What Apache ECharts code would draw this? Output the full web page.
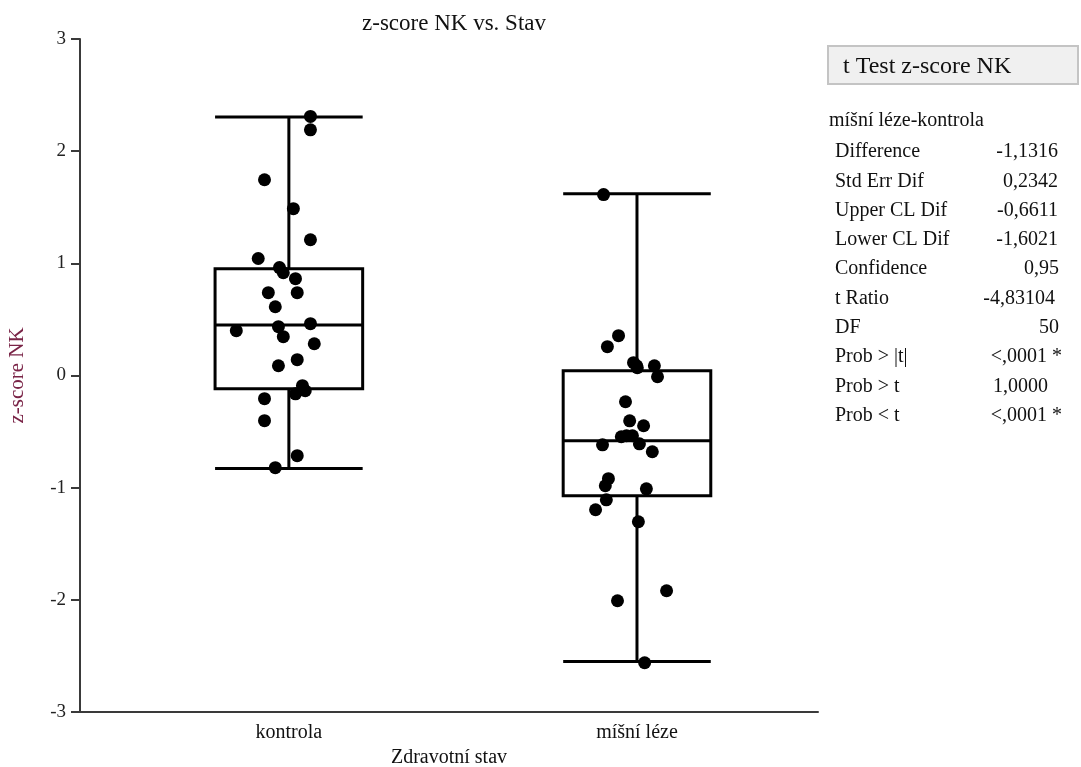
<!DOCTYPE html>
<html>
<head>
<meta charset="UTF-8">
<title>z-score NK vs. Stav</title>
<style>
  html, body { margin: 0; padding: 0; background: #fff; }
  #main { width: 1081px; height: 767px; }
</style>
<script src="https://cdn.jsdelivr.net/npm/echarts@6/dist/echarts.min.js"></script>
</head>
<body>
<div id="main"></div>
<script>
// categories on the x axis
var categories = ['kontrola', 'míšní léze'];

// individual z-scores and their horizontal jitter, in category units
var kontrolaValues = [2.31, 2.19, 1.745, 1.487, 1.21, 1.043, 0.962, 0.916, 0.863, 0.738, 0.738, 0.613, 0.40,
  0.435, 0.462, 0.346, 0.283, 0.141, 0.087, -0.091, -0.136, -0.163, -0.207, -0.403, -0.715, -0.822];
var kontrolaJitter = [0.062, 0.062, -0.070, 0.013, 0.062, -0.088, -0.027, -0.016, 0.019, -0.059, 0.024, -0.039, -0.151,
  -0.030, 0.062, -0.016, 0.073, 0.024, -0.030, 0.039, 0.047, 0.019, -0.070, -0.070, 0.024, -0.039];

var lezeValues = [1.613, 0.355, 0.257, 0.114, 0.069, 0.087, 0.087, -0.011, -0.234, -0.404, -0.448, -0.546, -0.537,
  -0.537, -0.609, -0.618, -0.680, -0.920, -0.983, -1.010, -1.108, -1.197, -1.304, -1.919, -2.008, -2.561];
var lezeJitter = [-0.096, -0.053, -0.085, -0.010, 0.001, -0.001, 0.050, 0.059, -0.033, -0.021, 0.019, -0.045, -0.030,
  -0.013, 0.007, -0.099, 0.044, -0.082, -0.091, 0.027, -0.088, -0.119, 0.004, 0.085, -0.056, 0.022];

// box summaries: [lower whisker, Q1, median, Q3, upper whisker]
var kontrolaBox = [-0.83, -0.118, 0.451, 0.952, 2.305];
var lezeBox = [-2.55, -1.072, -0.581, 0.043, 1.62];

// t test table
var tTestTitle = 't Test z-score NK';
var tTestSubtitle = 'míšní léze-kontrola';
var tTestLabels = ['Difference', 'Std Err Dif', 'Upper CL Dif', 'Lower CL Dif', 'Confidence', 't Ratio', 'DF',
  'Prob > |t|', 'Prob > t', 'Prob < t'];
var tTestValues = ['-1,1316', '0,2342', '-0,6611', '-1,6021', '0,95', '-4,83104', '50', '<,0001 *', '1,0000', '<,0001 *'];
var tTestValueRight = [1058, 1058, 1058, 1058, 1059, 1055, 1059, 1062, 1048, 1062];

var FONT = '"Liberation Serif", "Times New Roman", serif';

var chart = echarts.init(document.getElementById('main'));

function points(values, jitter, idx) {
  return values.map(function (v, i) { return [idx + jitter[i], v]; });
}

var boxData = [[0].concat(kontrolaBox), [1].concat(lezeBox)];

// right-hand table as graphic texts
var tableGraphics = [
  {
    type: 'rect',
    shape: { x: 828, y: 46, width: 250, height: 38 },
    style: { fill: '#f0f0f0', stroke: '#c4c4c4', lineWidth: 2 }
  },
  {
    type: 'text', x: 843, y: 67,
    style: { text: tTestTitle, font: '24px ' + FONT, fill: '#111', textVerticalAlign: 'middle' }
  },
  {
    type: 'text', x: 829, y: 121,
    style: { text: tTestSubtitle, font: '20px ' + FONT, fill: '#111', textVerticalAlign: 'middle' }
  }
];
tTestLabels.forEach(function (lab, i) {
  var y = 152 + i * 29.3;
  tableGraphics.push({
    type: 'text', x: 835, y: y,
    style: { text: lab, font: '20px ' + FONT, fill: '#111', textVerticalAlign: 'middle' }
  });
  tableGraphics.push({
    type: 'text', x: tTestValueRight[i], y: y,
    style: { text: tTestValues[i], font: '20px ' + FONT, fill: '#111', textAlign: 'right', textVerticalAlign: 'middle' }
  });
});

var option = {
  animation: false,
  backgroundColor: '#fff',
  title: {
    text: 'z-score NK vs. Stav',
    left: 449,
    textAlign: 'center',
    top: 7,
    textStyle: { fontFamily: FONT, fontSize: 23, fontWeight: 'normal', color: '#111' }
  },
  grid: { left: 80, right: 263, top: 39, bottom: 55, containLabel: false, outerBoundsMode: 'none' },
  xAxis: {
    type: 'value',
    min: -0.6,
    max: 1.52,
    name: 'Zdravotní stav',
    nameLocation: 'middle',
    nameGap: 36,
    nameTextStyle: { fontFamily: FONT, fontSize: 20, color: '#111' },
    axisLine: { show: true, onZero: false, lineStyle: { color: '#3a3a3a', width: 2 } },
    axisTick: { show: false },
    splitLine: { show: false },
    axisLabel: {
      customValues: [0, 1],
      formatter: function (v) { return categories[Math.round(v)]; },
      fontFamily: FONT, fontSize: 20, color: '#111', margin: 11
    }
  },
  yAxis: {
    type: 'value',
    min: -3,
    max: 3,
    interval: 1,
    name: 'z-score NK',
    nameLocation: 'middle',
    nameGap: 52,
    nameTextStyle: { fontFamily: FONT, fontSize: 21, color: '#7a2447' },
    axisLine: { show: true, onZero: false, lineStyle: { color: '#3a3a3a', width: 2 } },
    axisTick: { show: true, length: 9, lineStyle: { color: '#3a3a3a', width: 2 } },
    splitLine: { show: false },
    axisLabel: { fontFamily: FONT, fontSize: 19, color: '#222', margin: 14 }
  },
  graphic: tableGraphics,
  series: [
    {
      type: 'custom',
      data: boxData,
      z: 2,
      renderItem: function (params, api) {
        var x = api.value(0);
        var pLow = api.coord([x, api.value(1)]);
        var pQ1 = api.coord([x, api.value(2)]);
        var pMed = api.coord([x, api.value(3)]);
        var pQ3 = api.coord([x, api.value(4)]);
        var pHigh = api.coord([x, api.value(5)]);
        var half = api.size([0.212, 0])[0];
        var cx = pLow[0];
        var st = { stroke: '#000', lineWidth: 3, fill: null };
        return {
          type: 'group',
          children: [
            { type: 'line', shape: { x1: cx, y1: pHigh[1], x2: cx, y2: pQ3[1] }, style: st },
            { type: 'line', shape: { x1: cx, y1: pQ1[1], x2: cx, y2: pLow[1] }, style: st },
            { type: 'line', shape: { x1: cx - half, y1: pHigh[1], x2: cx + half, y2: pHigh[1] }, style: st },
            { type: 'line', shape: { x1: cx - half, y1: pLow[1], x2: cx + half, y2: pLow[1] }, style: st },
            { type: 'rect', shape: { x: cx - half, y: pQ3[1], width: half * 2, height: pQ1[1] - pQ3[1] }, style: st },
            { type: 'line', shape: { x1: cx - half, y1: pMed[1], x2: cx + half, y2: pMed[1] }, style: st }
          ]
        };
      }
    },
    {
      type: 'scatter',
      z: 3,
      symbolSize: 13,
      itemStyle: { color: '#000', opacity: 1 },
      data: points(kontrolaValues, kontrolaJitter, 0)
    },
    {
      type: 'scatter',
      z: 3,
      symbolSize: 13,
      itemStyle: { color: '#000', opacity: 1 },
      data: points(lezeValues, lezeJitter, 1)
    }
  ]
};

chart.setOption(option);
</script>
</body>
</html>
